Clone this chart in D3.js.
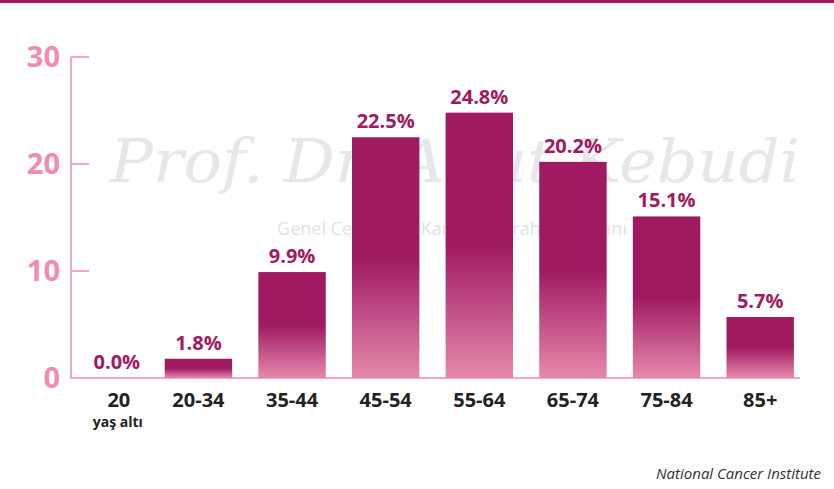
<!DOCTYPE html>
<html><head><meta charset="utf-8">
<script src="https://cdn.jsdelivr.net/npm/d3@7"></script>
<style>body{margin:0;background:#fff}svg{display:block}</style>
</head><body><div id="chart"></div>
<script>
const categories = ["20", "20-34", "35-44", "45-54", "55-64", "65-74", "75-84", "85+"];
const values = [0.0, 1.8, 9.9, 22.5, 24.8, 20.2, 15.1, 5.7];
const yTicks = [0, 10, 20, 30];

const W = 834, H = 489;
const svg = d3.select("#chart").append("svg").attr("width", W).attr("height", H);

const grad = svg.append("defs").append("linearGradient")
    .attr("id", "barGrad").attr("x1", 0).attr("y1", 0).attr("x2", 0).attr("y2", 1);
grad.append("stop").attr("offset", "0%").attr("stop-color", "#a01a62");
grad.append("stop").attr("offset", "50%").attr("stop-color", "#a01a62");
grad.append("stop").attr("offset", "100%").attr("stop-color", "#e589ac");

svg.append("rect").attr("x", 0).attr("y", 0).attr("width", W).attr("height", 3).attr("fill", "#a8185f");

const x = d3.scaleBand().domain(categories).range([58, 807]).paddingInner(0.28).paddingOuter(0.14);
const y = d3.scaleLinear().domain([0, 30]).range([378, 57]);

// watermark
svg.append("text").attr("x", 455).attr("y", 182).attr("text-anchor", "middle")
    .attr("font-family", "DejaVu Serif").attr("font-style", "italic").attr("font-size", 60)
    .attr("textLength", 690).attr("lengthAdjust", "spacingAndGlyphs")
    .attr("fill", "#dcdce3").attr("opacity", 0.7).text("Prof. Dr. Abut Kebudi");
svg.append("text").attr("x", 452).attr("y", 235).attr("text-anchor", "middle")
    .attr("font-family", "Open Sans").attr("font-size", 18)
    .attr("fill", "#e2e2e6").text("Genel Cerrahi ve Kanser Cerrahisi Uzmanı");

// axis
const axisColor = "#f4a6c3";
svg.append("line").attr("x1", 71).attr("x2", 71).attr("y1", y(30)).attr("y2", y(0))
    .attr("stroke", axisColor).attr("stroke-width", 2);
svg.append("line").attr("x1", 70).attr("x2", 800).attr("y1", y(0)).attr("y2", y(0))
    .attr("stroke", axisColor).attr("stroke-width", 2);
svg.selectAll(".tick").data(yTicks).join("line")
    .attr("x1", 71).attr("x2", 89).attr("y1", d => y(d)).attr("y2", d => y(d))
    .attr("stroke", axisColor).attr("stroke-width", 2);
svg.selectAll(".tickLabel").data(yTicks).join("text")
    .attr("x", 60).attr("y", d => y(d) + 10).attr("text-anchor", "end")
    .attr("font-family", "Open Sans").attr("font-weight", 700).attr("font-size", 29)
    .attr("fill", "#f18bb1").text(d => d);

// bars
svg.selectAll(".bar").data(values).join("rect")
    .attr("x", (d, i) => x(categories[i])).attr("width", x.bandwidth())
    .attr("y", d => y(d)).attr("height", d => y(0) - y(d))
    .attr("fill", "url(#barGrad)");

const cx = i => x(categories[i]) + x.bandwidth() / 2 + (i === 0 ? 12 : 0);
svg.selectAll(".val").data(values).join("text")
    .attr("x", (d, i) => cx(i)).attr("y", d => y(d) - 9).attr("text-anchor", "middle")
    .attr("font-family", "Open Sans").attr("font-weight", 700).attr("font-size", 20)
    .attr("fill", "#a01a62").text(d => d.toFixed(1) + "%");

svg.selectAll(".cat").data(categories).join("text")
    .attr("x", (d, i) => cx(i) + (i === 0 ? 2 : 0)).attr("y", 407).attr("text-anchor", "middle")
    .attr("font-family", "Open Sans").attr("font-weight", 700).attr("font-size", 20)
    .attr("fill", "#222").text(d => d);
svg.append("text").attr("x", cx(0) + 1).attr("y", 427).attr("text-anchor", "middle")
    .attr("font-family", "Open Sans").attr("font-weight", 700).attr("font-size", 14)
    .attr("fill", "#222").text("yaş altı");

svg.append("text").attr("x", 821).attr("y", 479).attr("text-anchor", "end")
    .attr("font-family", "Open Sans").attr("font-style", "italic").attr("font-size", 15)
    .attr("fill", "#333").text("National Cancer Institute");
</script></body></html>
